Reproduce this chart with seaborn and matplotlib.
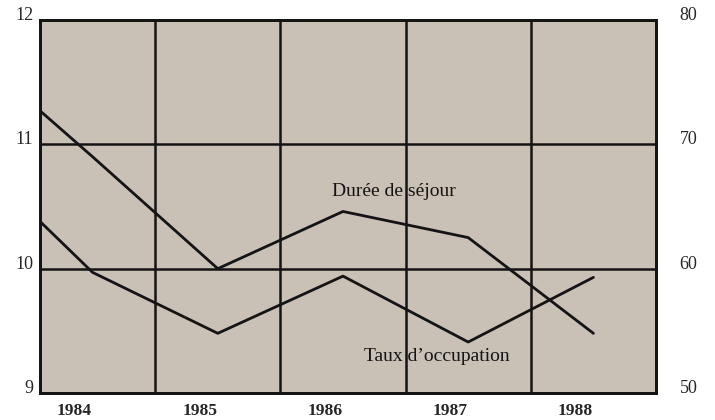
import matplotlib
matplotlib.use("Agg")
import matplotlib.pyplot as plt
import matplotlib.transforms as mtransforms
import pandas as pd
import seaborn as sns

# Hospital indicators. The first entry is where both series enter the
# frame, just before the 1984 reading.
years = [1983.58, 1984, 1985, 1986, 1987, 1988]
duree_sejour = [11.27, 10.90, 10.00, 10.46, 10.25, 9.48]      # days, left axis
taux_occupation = [63.8, 59.7, 54.8, 59.4, 54.1, 59.3]        # %, right axis

year_ticks = [1984, 1985, 1986, 1987, 1988]
year_labels = ["1984", "1985", "1986", "1987", "1988"]
left_ticks = [9, 10, 11, 12]
right_ticks = [50, 60, 70, 80]
column_edges = [1984.5, 1985.5, 1986.5, 1987.5]

sns.set_style("white")
plt.rcParams["font.family"] = ["Liberation Serif", "DejaVu Serif"]

df = pd.DataFrame({"annee": years, "duree": duree_sejour, "taux": taux_occupation})

ink = "#141414"
fig = plt.figure(figsize=(7.15, 4.2), dpi=100)
ax = fig.add_axes([40 / 715, 1 - 393 / 420, 616 / 715, 373 / 420])
ax.set_facecolor("#c9c0b6")
ax2 = ax.twinx()

sns.lineplot(data=df, x="annee", y="duree", ax=ax, color=ink, lw=2)
sns.lineplot(data=df, x="annee", y="taux", ax=ax2, color=ink, lw=2)

ax.set_xlim(years[0], 1988.5)
ax.set_ylim(left_ticks[0], left_ticks[-1])
ax2.set_ylim(right_ticks[0], right_ticks[-1])

ax.set_xticks(year_ticks, year_labels, fontsize=12.5, fontweight="bold")
ax.set_xticks(column_edges, minor=True)
ax.set_yticks(left_ticks, [str(v) for v in left_ticks], fontsize=13, va="baseline")
ax2.set_yticks(right_ticks, [str(v) for v in right_ticks], fontsize=13, va="baseline")

ax.grid(which="minor", axis="x", color=ink, lw=1.8)
ax.grid(which="major", axis="y", color=ink, lw=1.8)
ax.grid(which="major", axis="x", visible=False)

ax.tick_params(axis="x", which="both", length=0, pad=7)
ax.tick_params(axis="y", length=0, pad=5)
ax2.tick_params(axis="y", length=0, pad=17)
for a in (ax, ax2):
    a.set_xlabel("")
    a.set_ylabel("")
    for s in a.spines.values():
        s.set_visible(True)
        s.set_color(ink)
        s.set_linewidth(2)

# year labels sit a little to the left of their data points
shift = mtransforms.ScaledTranslation(-18 / 100, 0, fig.dpi_scale_trans)
for lab in ax.get_xticklabels():
    lab.set_transform(lab.get_transform() + shift)

ax.text(1986.41, 10.62, "Durée de séjour", fontsize=14, ha="center", va="center", color=ink)
ax2.text(1986.75, 52.9, "Taux d\u2019occupation", fontsize=14, ha="center", va="center", color=ink)

fig.savefig("out.png", dpi=100, facecolor="white")
